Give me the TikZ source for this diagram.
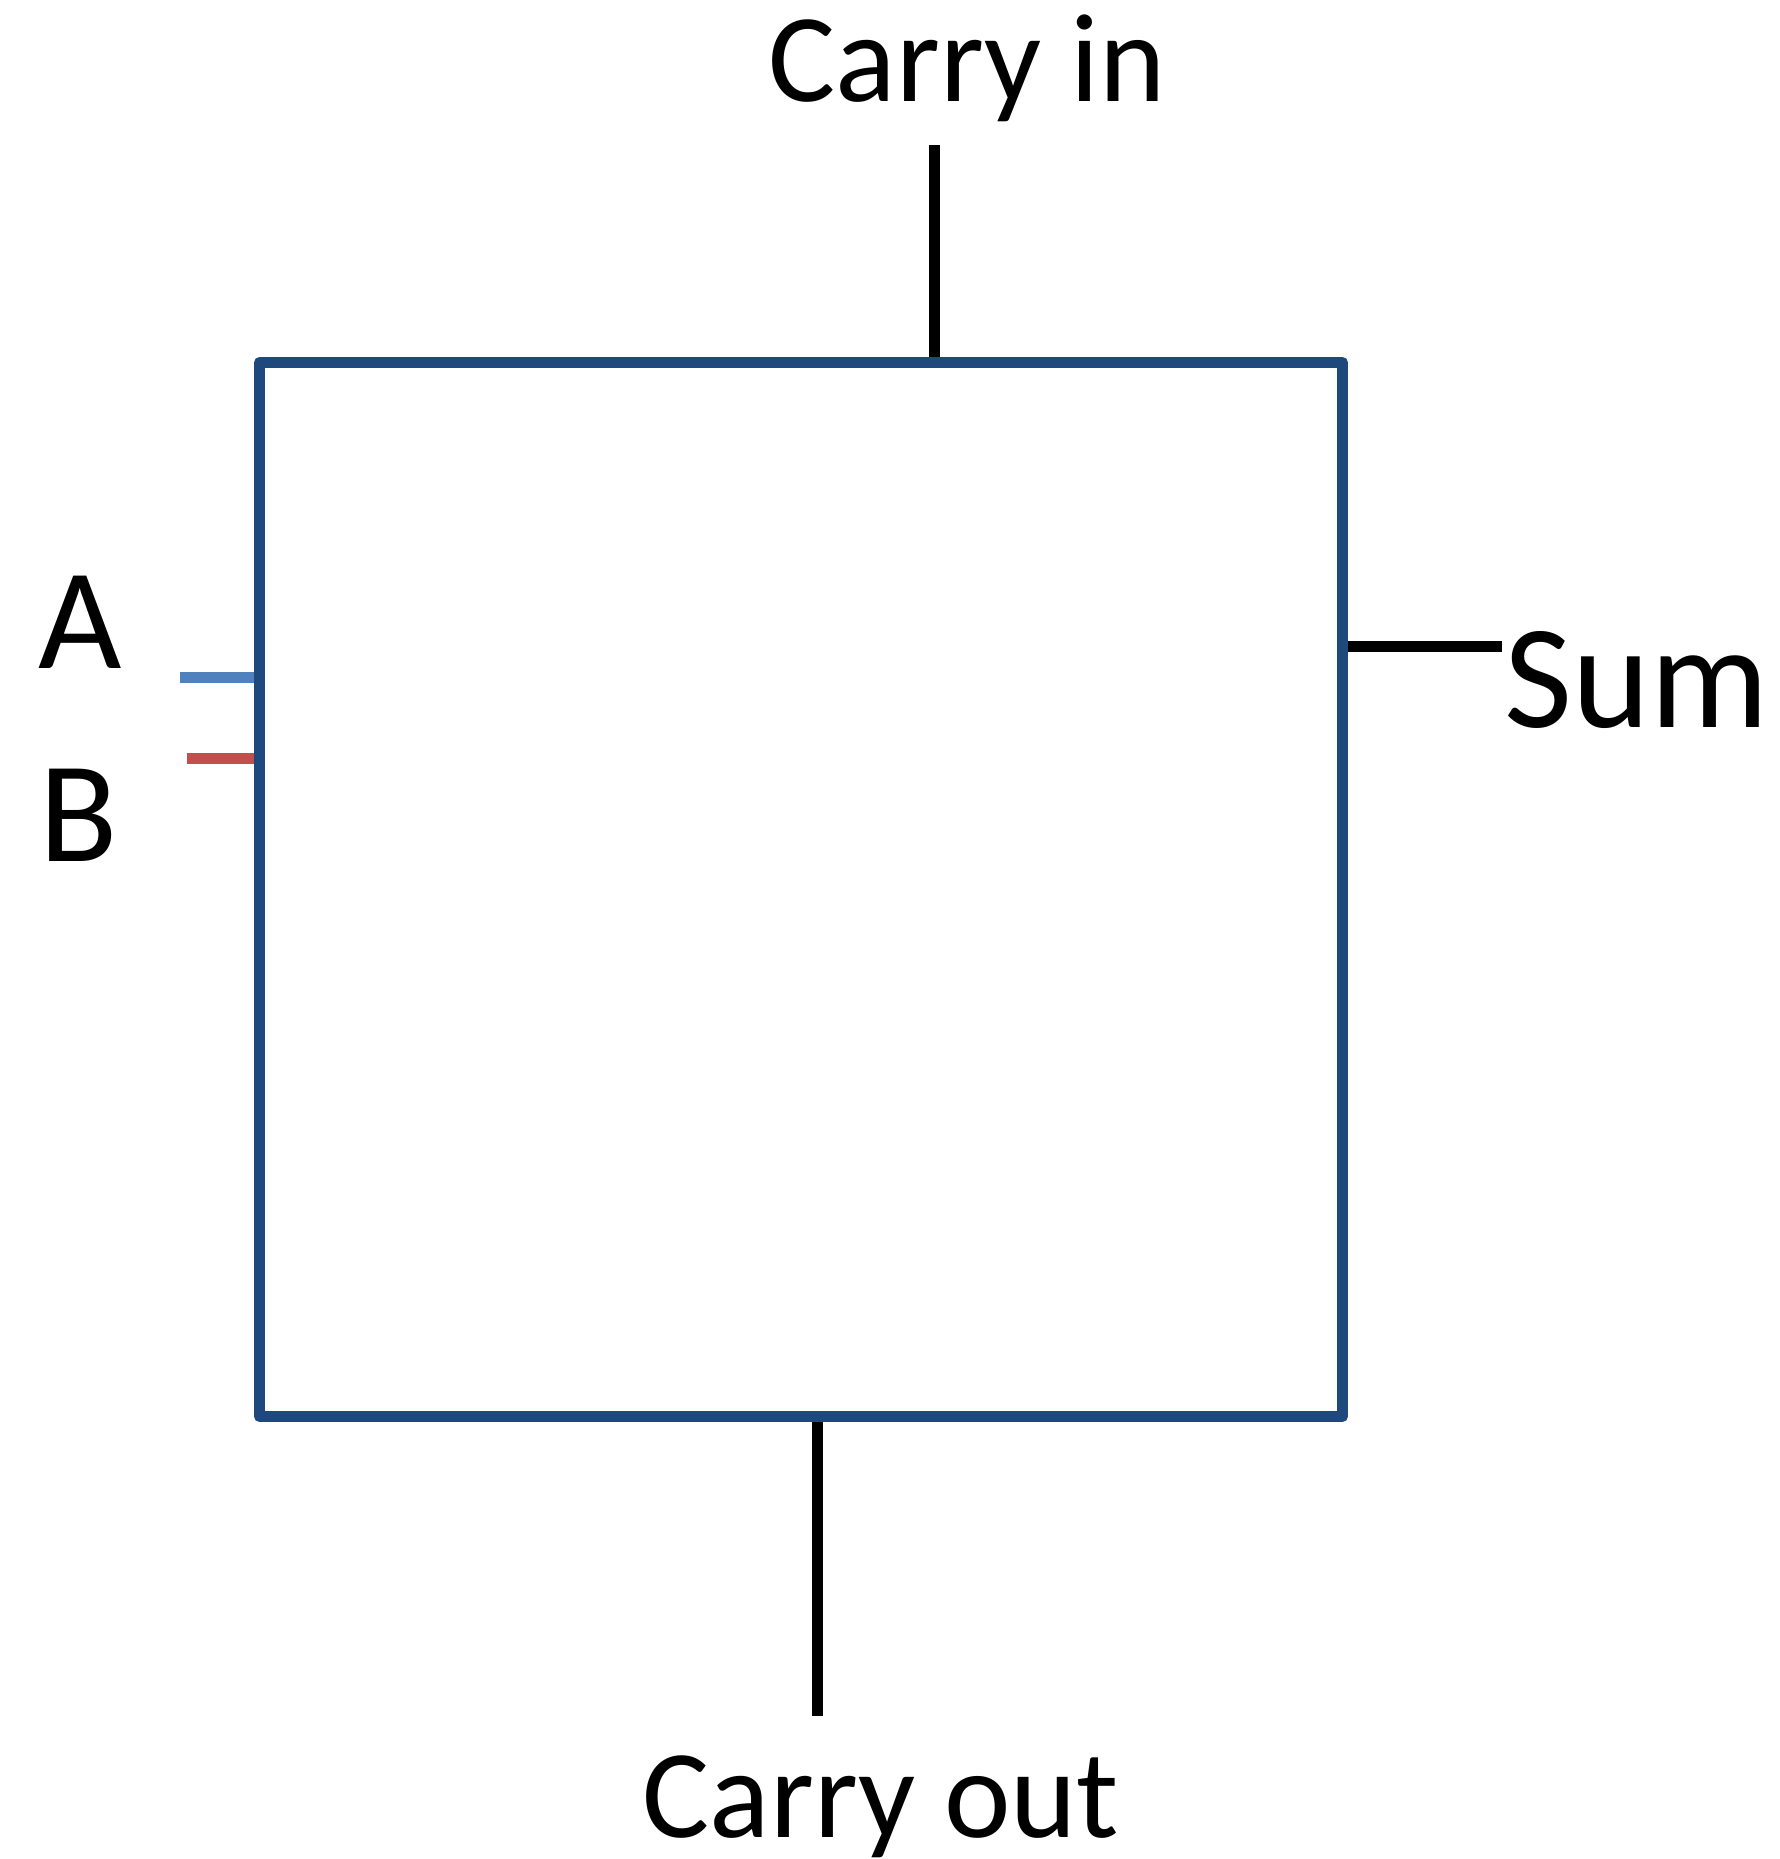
\documentclass[tikz,border=0pt]{standalone}
\usepackage{fontspec}
\setmainfont{Carlito}
\definecolor{boxblue}{RGB}{31,73,125}
\definecolor{inblue}{RGB}{79,129,189}
\definecolor{inred}{RGB}{192,80,77}
\usetikzlibrary{positioning,calc}

\begin{document}
\begin{tikzpicture}[x=0.5pt, y=-0.5pt,
    adder/.style={rectangle, draw=boxblue, line width=5.5pt, outer sep=0pt,
                  minimum width=541.5pt, minimum height=527pt, line join=round},
    biglabel/.style={font=\fontsize{72}{80}\selectfont, anchor=base, inner sep=0pt},
    carrylabel/.style={font=\fontsize{63}{70}\selectfont, anchor=base, inner sep=0pt},
    wire/.style={line width=5.5pt}]

    \useasboundingbox (0,0) rectangle (1779,1859);

    \node[adder] (fa) at (801,889.5) {};
    \node[carrylabel] (cinlabel) at (967,101) {Carry in};
    \node[carrylabel] (coutlabel) at (881,1837) {Carry out};
    \node[biglabel] (alabel) at (80,668) {A};
    \node[biglabel] (blabel) at (78.5,861) {B};
    \node[biglabel, font=\fontsize{74}{80}\selectfont, anchor=base west] (sumlabel) at (1504,727) {Sum};

    \coordinate (cin) at (934.5,145);
    \coordinate (cout) at (817,1716);
    \coordinate (ain) at (180,677.5);
    \coordinate (bin) at (187,758.5);
    \coordinate (sumout) at (1502,646.5);

    \draw[wire, shorten >=2.75pt] (cin) -- (cin |- fa.north);
    \draw[wire, shorten <=2.75pt] (cout |- fa.south) -- (cout);
    \draw[wire, inblue, shorten >=2.75pt] (ain) -- (ain -| fa.west);
    \draw[wire, inred, shorten >=2.75pt] (bin) -- (bin -| fa.west);
    \draw[wire, shorten <=2.75pt] (fa.east |- sumout) -- (sumout);
\end{tikzpicture}
\end{document}
